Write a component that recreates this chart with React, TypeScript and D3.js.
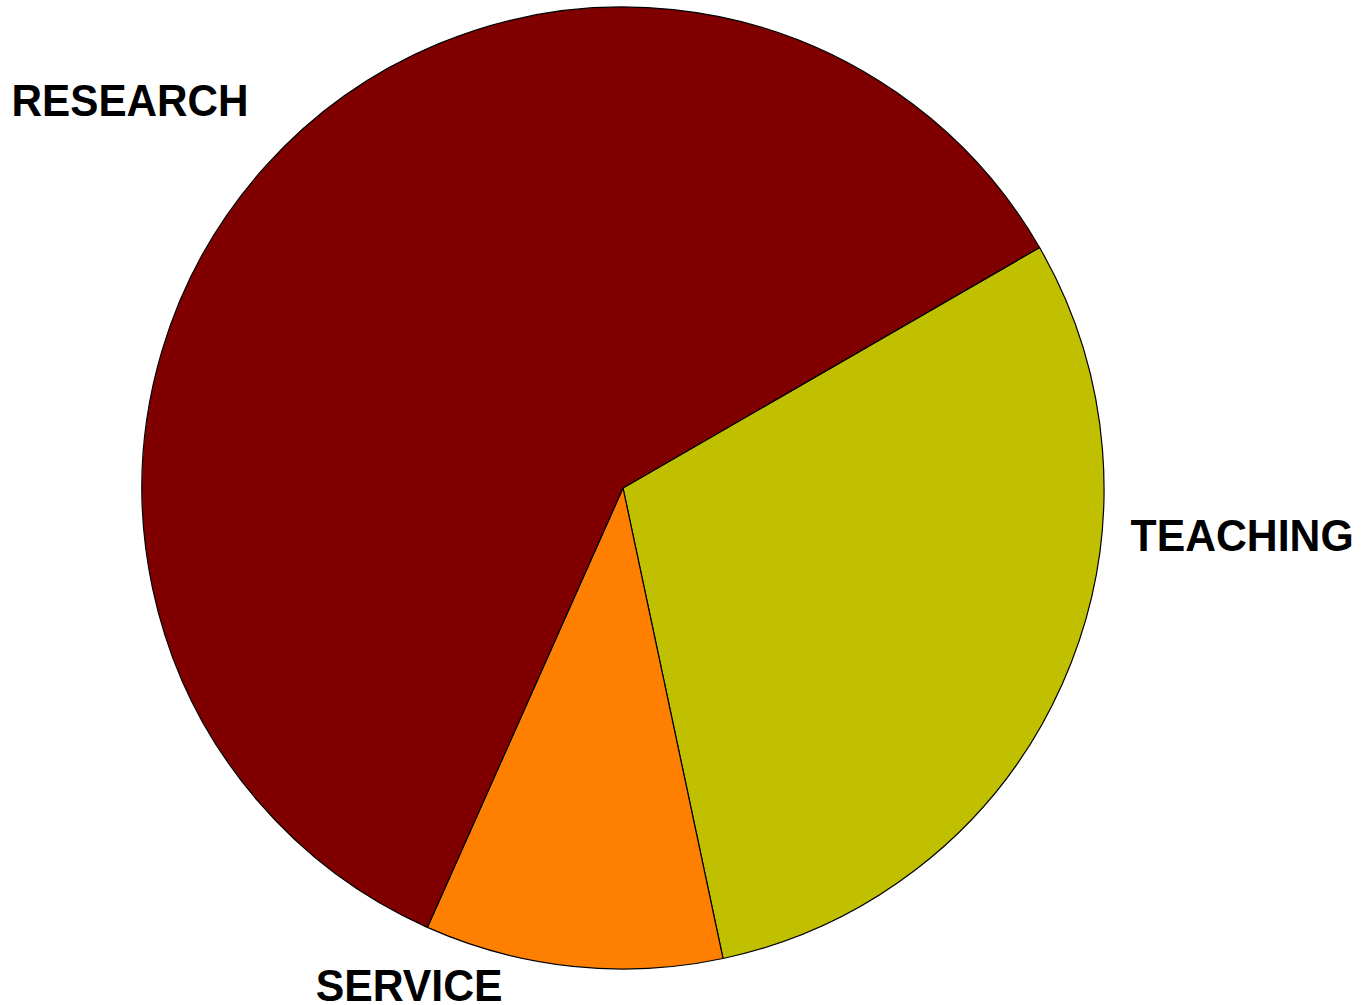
import * as d3 from "d3";
import * as React from "react";

// slice data, clockwise from the first boundary
const categories = ["TEACHING", "SERVICE", "RESEARCH"];
const shares = [30, 10, 60];
const colors = ["#c0c000", "#ff8000", "#800000"];

export default function App() {
  const width = 1363;
  const height = 1005;
  const cx = 623;
  const cy = 488;
  const r = 481;

  const pie = d3
    .pie<number>()
    .sort(null)
    .value((d) => d)
    .startAngle((60 * Math.PI) / 180)
    .endAngle((60 * Math.PI) / 180 + 2 * Math.PI);
  const arcs = pie(shares);
  const arc = d3.arc<d3.PieArcDatum<number>>().innerRadius(0).outerRadius(r);

  // label placement: angle (deg, clockwise from top), distance factor, anchor, ink width
  const labelLayout = [
    { angle: 95.3, dist: 1.063, anchor: "start", w: 220 },
    { angle: 203.3, dist: 1.124, anchor: "middle", w: 184 },
    { angle: 315.9, dist: 1.123, anchor: "end", w: 234 },
  ];
  const fontSize = 45;
  const capHalf = (fontSize * 0.716) / 2;
  const bearing = 1.5;

  return (
    <svg
      width={width}
      height={height}
      style={{ position: "absolute", left: 0, top: 0, background: "#fff" }}
    >
      <g transform={`translate(${cx},${cy})`}>
        {arcs.map((a, i) => (
          <path
            key={categories[i]}
            d={arc(a) || ""}
            fill={colors[i]}
            stroke="#000"
            strokeWidth={1.2}
            strokeLinejoin="round"
          />
        ))}
        {categories.map((c, i) => {
          const l = labelLayout[i];
          const t = (l.angle * Math.PI) / 180;
          const x = Math.sin(t) * r * l.dist;
          const y = -Math.cos(t) * r * l.dist + capHalf;
          const x0 = l.anchor === "start" ? x : l.anchor === "end" ? x - l.w : x - l.w / 2;
          return (
            <text
              key={c}
              x={x0 - bearing}
              y={y}
              textLength={l.w + 2 * bearing}
              lengthAdjust="spacingAndGlyphs"
              fontFamily="'Liberation Sans', Arial, sans-serif"
              fontWeight="bold"
              fontSize={fontSize}
              fill="#000"
            >
              {c}
            </text>
          );
        })}
      </g>
    </svg>
  );
}
